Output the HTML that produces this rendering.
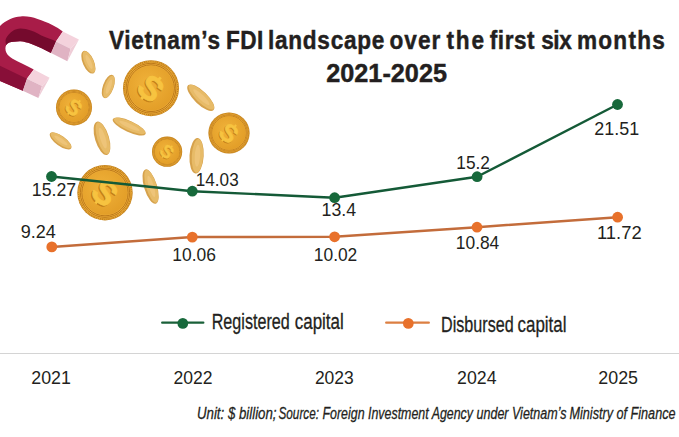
<!DOCTYPE html>
<html><head><meta charset="utf-8"><title>Vietnam’s FDI landscape over the first six months 2021-2025</title>
<style>html,body{margin:0;padding:0;background:#fff;overflow:hidden;}svg{display:block;}
text{font-family:"Liberation Sans",Arial,sans-serif;fill:#231f20;}</style></head>
<body><svg width="679" height="437" viewBox="0 0 679 437">
<rect width="679" height="437" fill="#fff"/>
<defs>
<radialGradient id="gface" cx="0.42" cy="0.4" r="0.65">
<stop offset="0" stop-color="#f0b23a"/><stop offset="1" stop-color="#e29d27"/>
</radialGradient>
</defs>
<g id="magnet">
<path d="M62.8,31.4 C56,26.5 50,23.5 45,21.7 C40,19.8 35,17.9 30.9,17.1 C27,16.4 24,16.2 20.6,16.5 C17,16.8 13.5,17.6 10.3,19.1 C5,21.5 1,24.5 -3,29 L-14,45 L-14,70 L-6,78 L0,80.9 L22.8,90.7 L26.9,78.8 L33.8,69.6 C26,65.5 18.5,62 12.6,58.8 C9.5,57 7.3,55 6.3,52.6 C5.3,50.5 5,47.5 6.2,44.9 C7.8,42.8 10.5,41.9 13.4,41.8 C16,41.5 18.5,41.2 20.6,41.3 C24,41.6 27.5,42.5 30.9,43.8 C36,45.8 40.5,47.8 45,50 L51,52.9 L56,41.5 Z" fill="#a81c48"/>
<path d="M56,41.5 C52,39.5 48.5,38.4 45,37.1 C40,35 35.5,31.8 30.9,30.4 C27.5,29.2 24,28.4 20.6,28.4 C17.5,28.5 15,29.3 13.4,30.4 C10,32.5 7,36 5.7,39.2 C5.4,41 5.6,43.2 6.2,44.9 C7.8,42.8 10.5,41.9 13.4,41.8 C16,41.5 18.5,41.2 20.6,41.3 C24,41.6 27.5,42.5 30.9,43.8 C36,45.8 40.5,47.8 45,50 L51,52.9 Z" fill="#750a2d"/>
<path d="M-14,60 L0,65.8 C9,70 18,74.5 26.9,78.8 L22.8,90.7 L0,80.9 L-14,75 Z" fill="#880f38"/>
<polygon points="62.8,31.4 78.9,39.6 70.6,48.8 56,41.5" fill="#f4d2dc"/>
<polygon points="56,41.5 70.6,48.8 67.4,61.2 51,52.9" fill="#e0b3c3"/>
<polygon points="78.9,39.6 67.4,61.2 70.6,48.8" fill="#efcdd7"/>
<polygon points="33.8,69.6 49.6,77.8 42,86.1 26.9,78.8" fill="#f4d2dc"/>
<polygon points="26.9,78.8 42,86.1 38.4,98 22.8,90.7" fill="#e0b3c3"/>
<polygon points="49.6,77.8 38.4,98 42,86.1" fill="#efcdd7"/>
</g>
<g transform="translate(88.4,62.2) rotate(66.4)"><ellipse rx="12.2" ry="5.6" fill="#d6a24c"/><ellipse cy="-0.67" rx="11.59" ry="4.48" fill="#e7bb68"/><ellipse cy="-0.67" rx="7.56" ry="2.13" fill="#eec479"/></g>
<g transform="translate(108.3,86.5) rotate(109.9)"><ellipse rx="12.2" ry="5.4" fill="#d6a24c"/><ellipse cy="-0.65" rx="11.59" ry="4.32" fill="#e7bb68"/><ellipse cy="-0.65" rx="7.56" ry="2.05" fill="#eec479"/></g>
<g transform="translate(200.8,97.7) rotate(44.1)"><ellipse rx="17.8" ry="6.6" fill="#d6a24c"/><ellipse cy="-0.79" rx="16.91" ry="5.28" fill="#e7bb68"/><ellipse cy="-0.79" rx="11.04" ry="2.51" fill="#eec479"/></g>
<g transform="translate(60.6,140.9) rotate(35.7)"><ellipse rx="12.9" ry="5.0" fill="#d6a24c"/><ellipse cy="-0.60" rx="12.25" ry="4.00" fill="#e7bb68"/><ellipse cy="-0.60" rx="8.00" ry="1.90" fill="#eec479"/></g>
<g transform="translate(102,138.3) rotate(73)"><ellipse rx="17.4" ry="7" fill="#d6a24c"/><ellipse cy="-0.84" rx="16.53" ry="5.60" fill="#e7bb68"/><ellipse cy="-0.84" rx="10.79" ry="2.66" fill="#eec479"/></g>
<g transform="translate(129.2,126.5) rotate(24.7)"><ellipse rx="18" ry="5.6" fill="#d6a24c"/><ellipse cy="-0.67" rx="17.10" ry="4.48" fill="#e7bb68"/><ellipse cy="-0.67" rx="11.16" ry="2.13" fill="#eec479"/></g>
<g transform="translate(196.6,155.8) rotate(93.5)"><ellipse rx="17.75" ry="7.1" fill="#d6a24c"/><ellipse cy="-0.85" rx="16.86" ry="5.68" fill="#e7bb68"/><ellipse cy="-0.85" rx="11.01" ry="2.70" fill="#eec479"/></g>
<g transform="translate(150.6,186.6) rotate(73.1)"><ellipse rx="17.9" ry="6.5" fill="#d6a24c"/><ellipse cy="-0.78" rx="17.00" ry="5.20" fill="#e7bb68"/><ellipse cy="-0.78" rx="11.10" ry="2.47" fill="#eec479"/></g>
<g transform="translate(151,88.2) rotate(0)"><circle r="28" fill="#c2801c"/><circle r="26.88" fill="none" stroke="#eeae3c" stroke-width="1.12" stroke-dasharray="0.98 0.98"/><circle r="26.04" fill="#eeae3a"/><circle r="24.92" fill="none" stroke="#bb781a" stroke-width="0.98"/><circle r="23.38" fill="#ebaa36" stroke="#bb781a" stroke-width="0.98"/><circle r="22.40" fill="url(#gface)"/><text transform="translate(-1.12,1.12) rotate(42)" x="0" y="11.76" font-size="33.60" font-weight="bold" text-anchor="middle" style="fill:#c27f18;stroke:#c27f18;stroke-width:0.84px;stroke-linejoin:round">S</text><text transform="translate(0.00,0.00) rotate(42)" x="0" y="11.76" font-size="33.60" font-weight="bold" text-anchor="middle" style="fill:#f7c340;stroke:#f7c340;stroke-width:0.84px;stroke-linejoin:round">S</text><path transform="rotate(42)" d="M0,-11.20 L0,-14.56 M0,11.20 L0,14.56" stroke="#f7c340" stroke-width="2.80"/></g>
<g transform="translate(74,107.4) rotate(0)"><circle r="18" fill="#c2801c"/><circle r="17.28" fill="none" stroke="#eeae3c" stroke-width="0.72" stroke-dasharray="0.63 0.63"/><circle r="16.74" fill="#eeae3a"/><circle r="16.02" fill="none" stroke="#bb781a" stroke-width="0.63"/><circle r="15.03" fill="#ebaa36" stroke="#bb781a" stroke-width="0.63"/><circle r="14.40" fill="url(#gface)"/><text transform="translate(-0.72,0.72) rotate(42)" x="0" y="7.56" font-size="21.60" font-weight="bold" text-anchor="middle" style="fill:#c27f18;stroke:#c27f18;stroke-width:0.54px;stroke-linejoin:round">S</text><text transform="translate(0.00,0.00) rotate(42)" x="0" y="7.56" font-size="21.60" font-weight="bold" text-anchor="middle" style="fill:#f7c340;stroke:#f7c340;stroke-width:0.54px;stroke-linejoin:round">S</text><path transform="rotate(42)" d="M0,-7.20 L0,-9.36 M0,7.20 L0,9.36" stroke="#f7c340" stroke-width="1.80"/></g>
<g transform="translate(229,133) rotate(0)"><circle r="20.6" fill="#c2801c"/><circle r="19.78" fill="none" stroke="#eeae3c" stroke-width="0.82" stroke-dasharray="0.72 0.72"/><circle r="19.16" fill="#eeae3a"/><circle r="18.33" fill="none" stroke="#bb781a" stroke-width="0.72"/><circle r="17.20" fill="#ebaa36" stroke="#bb781a" stroke-width="0.72"/><circle r="16.48" fill="url(#gface)"/><text transform="translate(-0.82,0.82) rotate(42)" x="0" y="8.65" font-size="24.72" font-weight="bold" text-anchor="middle" style="fill:#c27f18;stroke:#c27f18;stroke-width:0.62px;stroke-linejoin:round">S</text><text transform="translate(0.00,0.00) rotate(42)" x="0" y="8.65" font-size="24.72" font-weight="bold" text-anchor="middle" style="fill:#f7c340;stroke:#f7c340;stroke-width:0.62px;stroke-linejoin:round">S</text><path transform="rotate(42)" d="M0,-8.24 L0,-10.71 M0,8.24 L0,10.71" stroke="#f7c340" stroke-width="2.06"/></g>
<g transform="translate(167.1,151.7) rotate(0)"><circle r="15.1" fill="#c2801c"/><circle r="14.50" fill="none" stroke="#eeae3c" stroke-width="0.60" stroke-dasharray="0.53 0.53"/><circle r="14.04" fill="#eeae3a"/><circle r="13.44" fill="none" stroke="#bb781a" stroke-width="0.60"/><circle r="12.61" fill="#ebaa36" stroke="#bb781a" stroke-width="0.60"/><circle r="12.08" fill="url(#gface)"/><text transform="translate(-0.60,0.60) rotate(42)" x="0" y="6.34" font-size="18.12" font-weight="bold" text-anchor="middle" style="fill:#c27f18;stroke:#c27f18;stroke-width:0.45px;stroke-linejoin:round">S</text><text transform="translate(0.00,0.00) rotate(42)" x="0" y="6.34" font-size="18.12" font-weight="bold" text-anchor="middle" style="fill:#f7c340;stroke:#f7c340;stroke-width:0.45px;stroke-linejoin:round">S</text><path transform="rotate(42)" d="M0,-6.04 L0,-7.85 M0,6.04 L0,7.85" stroke="#f7c340" stroke-width="1.51"/></g>
<g transform="translate(105,192.7) rotate(0)"><circle r="27.7" fill="#c2801c"/><circle r="26.59" fill="none" stroke="#eeae3c" stroke-width="1.11" stroke-dasharray="0.97 0.97"/><circle r="25.76" fill="#eeae3a"/><circle r="24.65" fill="none" stroke="#bb781a" stroke-width="0.97"/><circle r="23.13" fill="#ebaa36" stroke="#bb781a" stroke-width="0.97"/><circle r="22.16" fill="url(#gface)"/><text transform="translate(-1.11,1.11) rotate(42)" x="0" y="11.63" font-size="33.24" font-weight="bold" text-anchor="middle" style="fill:#c27f18;stroke:#c27f18;stroke-width:0.83px;stroke-linejoin:round">S</text><text transform="translate(0.00,0.00) rotate(42)" x="0" y="11.63" font-size="33.24" font-weight="bold" text-anchor="middle" style="fill:#f7c340;stroke:#f7c340;stroke-width:0.83px;stroke-linejoin:round">S</text><path transform="rotate(42)" d="M0,-11.08 L0,-14.40 M0,11.08 L0,14.40" stroke="#f7c340" stroke-width="2.77"/></g>
<polyline points="51.8,246.9 192.3,237.1 334.6,236.8 477,227.2 617.6,217.2" fill="none" stroke="#c36c3b" stroke-width="2.5" stroke-linejoin="round"/>
<polyline points="51.5,176.5 192.3,191.2 334.6,197.7 477.1,176.7 617.5,104.5" fill="none" stroke="#145a37" stroke-width="2.4" stroke-linejoin="round"/>
<circle cx="51.5" cy="176.5" r="5.4" fill="#17693b"/>
<circle cx="192.3" cy="191.2" r="5.4" fill="#17693b"/>
<circle cx="334.6" cy="197.7" r="5.4" fill="#17693b"/>
<circle cx="477.1" cy="176.7" r="5.4" fill="#17693b"/>
<circle cx="617.5" cy="104.5" r="5.4" fill="#17693b"/>
<circle cx="51.8" cy="246.9" r="5.4" fill="#e8712b"/>
<circle cx="192.3" cy="237.1" r="5.4" fill="#e8712b"/>
<circle cx="334.6" cy="236.8" r="5.4" fill="#e8712b"/>
<circle cx="477" cy="227.2" r="5.4" fill="#e8712b"/>
<circle cx="617.6" cy="217.2" r="5.4" fill="#e8712b"/>
<line x1="162.2" y1="322.7" x2="203.3" y2="322.7" stroke="#1a6039" stroke-width="2.3" stroke-linecap="round"/><circle cx="182.8" cy="323.4" r="5.35" fill="#17693b"/>
<line x1="386.2" y1="322.7" x2="428.8" y2="322.7" stroke="#dc7f42" stroke-width="2.3" stroke-linecap="round"/><circle cx="408.3" cy="323.4" r="5.35" fill="#e8712b"/>
<rect x="0" y="353" width="679" height="1" fill="#d4d4d4"/>
<text id="t1_0" transform="translate(109.00,48.8) scale(0.87,1)" font-size="26.0" font-weight="bold" stroke="#231f20" stroke-width="0.45" textLength="127.59" lengthAdjust="spacing">Vietnam’s</text>
<text id="t1_1" transform="translate(225.90,48.8) scale(0.87,1)" font-size="26.0" font-weight="bold" stroke="#231f20" stroke-width="0.45" textLength="42.87" lengthAdjust="spacing">FDI</text>
<text id="t1_2" transform="translate(268.00,48.8) scale(0.87,1)" font-size="26.0" font-weight="bold" stroke="#231f20" stroke-width="0.45" textLength="133.79" lengthAdjust="spacing">landscape</text>
<text id="t1_3" transform="translate(389.50,48.8) scale(0.87,1)" font-size="26.0" font-weight="bold" stroke="#231f20" stroke-width="0.45" textLength="58.39" lengthAdjust="spacing">over</text>
<text id="t1_4" transform="translate(446.50,48.8) scale(0.87,1)" font-size="26.0" font-weight="bold" stroke="#231f20" stroke-width="0.45" textLength="43.10" lengthAdjust="spacing">the</text>
<text id="t1_5" transform="translate(489.80,48.8) scale(0.87,1)" font-size="26.0" font-weight="bold" stroke="#231f20" stroke-width="0.45" textLength="51.49" lengthAdjust="spacing">first</text>
<text id="t1_6" transform="translate(541.20,48.8) scale(0.87,1)" font-size="26.0" font-weight="bold" stroke="#231f20" stroke-width="0.45" textLength="35.17" lengthAdjust="spacing">six</text>
<text id="t1_7" transform="translate(577.00,48.8) scale(0.87,1)" font-size="26.0" font-weight="bold" stroke="#231f20" stroke-width="0.45" textLength="100.92" lengthAdjust="spacing">months</text>
<text id="t2" x="326.20" y="81.8" font-size="25.3" font-weight="bold" stroke="#231f20" stroke-width="0.45" textLength="120.80" lengthAdjust="spacingAndGlyphs">2021-2025</text>
<text id="l1" x="31.80" y="196.2" font-size="18.4" textLength="44.30" lengthAdjust="spacingAndGlyphs">15.27</text>
<text id="l2" x="20.80" y="237.9" font-size="18.4" textLength="35.10" lengthAdjust="spacingAndGlyphs">9.24</text>
<text id="l3" x="195.80" y="186.4" font-size="18.4" textLength="42.90" lengthAdjust="spacingAndGlyphs">14.03</text>
<text id="l4" x="172.30" y="261.0" font-size="18.4" textLength="43.60" lengthAdjust="spacingAndGlyphs">10.06</text>
<text id="l5" x="321.50" y="216.1" font-size="18.4" textLength="34.60" lengthAdjust="spacingAndGlyphs">13.4</text>
<text id="l6" x="313.80" y="261.0" font-size="18.4" textLength="43.50" lengthAdjust="spacingAndGlyphs">10.02</text>
<text id="l7" x="456.30" y="169.0" font-size="18.4" textLength="33.60" lengthAdjust="spacingAndGlyphs">15.2</text>
<text id="l8" x="455.80" y="248.6" font-size="18.4" textLength="43.50" lengthAdjust="spacingAndGlyphs">10.84</text>
<text id="l9" x="594.30" y="134.7" font-size="18.4" textLength="44.80" lengthAdjust="spacingAndGlyphs">21.51</text>
<text id="l10" x="597.00" y="238.7" font-size="18.4" textLength="44.70" lengthAdjust="spacingAndGlyphs">11.72</text>
<text id="y1" x="31.30" y="383.8" font-size="18.2" textLength="39.60" lengthAdjust="spacingAndGlyphs">2021</text>
<text id="y2" x="173.40" y="383.8" font-size="18.2" textLength="39.10" lengthAdjust="spacingAndGlyphs">2022</text>
<text id="y3" x="314.90" y="383.8" font-size="18.2" textLength="38.90" lengthAdjust="spacingAndGlyphs">2023</text>
<text id="y4" x="457.10" y="383.8" font-size="18.2" textLength="39.40" lengthAdjust="spacingAndGlyphs">2024</text>
<text id="y5" x="598.30" y="383.8" font-size="18.2" textLength="39.70" lengthAdjust="spacingAndGlyphs">2025</text>
<text id="g1a" x="211.70" y="328.8" font-size="22.8" stroke="#231f20" stroke-width="0.3" textLength="78.10" lengthAdjust="spacingAndGlyphs">Registered</text>
<text id="g1b" x="294.70" y="328.8" font-size="22.8" stroke="#231f20" stroke-width="0.3" textLength="49.10" lengthAdjust="spacingAndGlyphs">capital</text>
<text id="g2a" x="441.00" y="331.5" font-size="22.8" stroke="#231f20" stroke-width="0.3" textLength="72.70" lengthAdjust="spacingAndGlyphs">Disbursed</text>
<text id="g2b" x="517.50" y="331.5" font-size="22.8" stroke="#231f20" stroke-width="0.3" textLength="49.00" lengthAdjust="spacingAndGlyphs">capital</text>
<text id="s1a" x="197.00" y="418.9" font-size="17.4" font-style="italic" stroke="#231f20" stroke-width="0.3" textLength="79.50" lengthAdjust="spacingAndGlyphs">Unit: $ billion;</text>
<text id="s1b" x="278.50" y="418.9" font-size="17.4" font-style="italic" stroke="#231f20" stroke-width="0.3" textLength="40.50" lengthAdjust="spacingAndGlyphs">Source:</text>
<text id="s1c" x="322.50" y="418.9" font-size="17.4" font-style="italic" stroke="#231f20" stroke-width="0.3" textLength="150.50" lengthAdjust="spacingAndGlyphs">Foreign Investment Agency</text>
<text id="s1d" x="476.50" y="418.9" font-size="17.4" font-style="italic" stroke="#231f20" stroke-width="0.3" textLength="90.00" lengthAdjust="spacingAndGlyphs">under Vietnam’s</text>
<text id="s1e" x="569.50" y="418.9" font-size="17.4" font-style="italic" stroke="#231f20" stroke-width="0.3" textLength="106.00" lengthAdjust="spacingAndGlyphs">Ministry of Finance</text>
</svg></body></html>
